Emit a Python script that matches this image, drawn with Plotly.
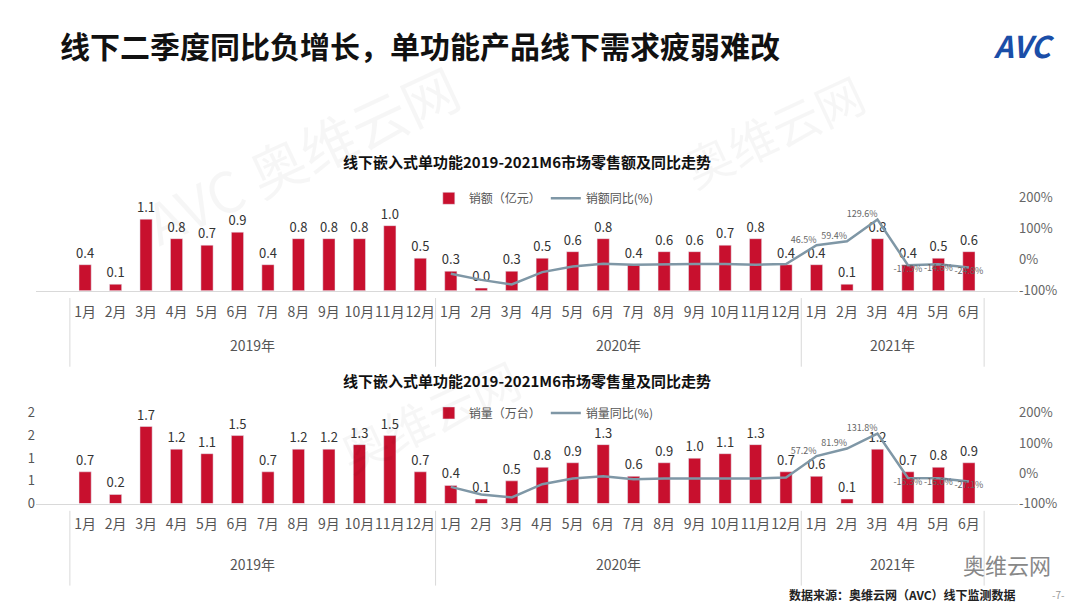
import plotly.graph_objects as go

years = ["2019年", "2020年", "2021年"]
year_len = [12, 12, 6]
months = [f"{m}月" for m in range(1, 13)] * 2 + [f"{m}月" for m in range(1, 7)]
cats = [f"{y}-{m}" for y, n in zip(years, year_len) for m in range(1, n + 1)]

sales_amt = [0.4, 0.1, 1.1, 0.8, 0.7, 0.9, 0.4, 0.8, 0.8, 0.8, 1.0, 0.5,
             0.3, 0.04, 0.3, 0.5, 0.6, 0.8, 0.4, 0.6, 0.6, 0.7, 0.8, 0.4,
             0.4, 0.1, 0.8, 0.4, 0.5, 0.6]
amt_yoy = [None] * 12 + [-45, -65, -80, -40, -22, -13, -16, -14, -14, -14, -16, -14,
                         46.5, 59.4, 129.6, -17.5, -14.6, -24.8]

sales_vol = [0.7, 0.2, 1.7, 1.2, 1.1, 1.5, 0.7, 1.2, 1.2, 1.3, 1.5, 0.7,
             0.4, 0.1, 0.5, 0.8, 0.9, 1.3, 0.6, 0.9, 1.0, 1.1, 1.3, 0.7,
             0.6, 0.1, 1.2, 0.7, 0.8, 0.9]
vol_yoy = [None] * 12 + [-45, -70, -80, -36, -17, -10, -20, -17, -17, -17, -17, -14,
                         57.2, 81.9, 131.8, -15.3, -16.0, -27.1]

RED = "#c8102e"
LINE = "#7f97a6"
GRID = "#d9d9d9"
FONT = "Noto Sans CJK SC"


def yoy_text(vals):
    return [f"{v:.1f}%" if i >= 24 else "" for i, v in enumerate(vals)]


def yoy_pos(vals):
    return ["bottom center" if (v is not None and v < 0) else "top left" for v in vals]


fig = go.Figure()

# top chart
fig.add_trace(go.Bar(x=cats, y=sales_amt, name="销额（亿元）", marker_color=RED, width=0.4,
                     text=[f"{v:.1f}" for v in sales_amt], textposition="outside",
                     constraintext="none", textfont=dict(size=13, color="#333"),
                     cliponaxis=False, xaxis="x", yaxis="y", legend="legend"))
fig.add_trace(go.Scatter(x=cats, y=amt_yoy, name="销额同比(%)", mode="lines+text",
                         line=dict(color=LINE, width=2.5), text=yoy_text(amt_yoy),
                         textposition=yoy_pos(amt_yoy), textfont=dict(size=9, color="#666"),
                         cliponaxis=False, xaxis="x", yaxis="y2", legend="legend"))

# bottom chart
fig.add_trace(go.Bar(x=cats, y=sales_vol, name="销量（万台）", marker_color=RED, width=0.4,
                     text=[f"{v:.1f}" for v in sales_vol], textposition="outside",
                     constraintext="none", textfont=dict(size=13, color="#333"),
                     cliponaxis=False, xaxis="x2", yaxis="y3", legend="legend2"))
fig.add_trace(go.Scatter(x=cats, y=vol_yoy, name="销量同比(%)", mode="lines+text",
                         line=dict(color=LINE, width=2.5), text=yoy_text(vol_yoy),
                         textposition=yoy_pos(vol_yoy), textfont=dict(size=9, color="#666"),
                         cliponaxis=False, xaxis="x2", yaxis="y4", legend="legend2"))

xcommon = dict(type="category", showgrid=False, showline=True, linecolor=GRID,
               tickvals=cats, ticktext=months, tickangle=0, automargin=False,
               ticklabelstandoff=8, tickfont=dict(size=14, color="#555"), domain=[0, 1])
pct = dict(range=[-100, 200], tickvals=[-100, 0, 100, 200], automargin=False,
           ticktext=["-100%", "0%", "100%", "200%"], side="right", showgrid=False,
           zeroline=False, tickfont=dict(size=13, color="#666"))


def ann(text, x, y, size, color="#111", xanchor="center", **kw):
    return dict(text=text, x=x, y=y, xref="paper", yref="paper", xanchor=xanchor,
                yanchor="middle", showarrow=False, font=dict(size=size, color=color), **kw)


# year dividers and year labels under each chart
shapes, year_anns = [], []
for xref, y0, y1, ylab in [("x", 0.523, 0.41, 0.445), ("x2", 0.173, 0.05, 0.085)]:
    start = 0
    edges = [-0.5]
    for y, n in zip(years, year_len):
        year_anns.append(dict(text=y, x=start + (n - 1) / 2, y=ylab, xref=xref, yref="paper",
                              showarrow=False, yanchor="middle",
                              font=dict(size=14, color="#555")))
        start += n
        edges.append(start - 0.5)
    for e in edges:
        shapes.append(dict(type="line", xref=xref, yref="paper", x0=e, x1=e, y0=y0, y1=y1,
                           line=dict(color=GRID, width=1)))

fig.update_layout(
    width=1080, height=608, paper_bgcolor="white", plot_bgcolor="white",
    font=dict(family=FONT), margin=dict(l=28, r=70, t=0, b=0), bargap=0.5,
    xaxis=dict(**xcommon, anchor="y"),
    yaxis=dict(domain=[0.535, 0.688], range=[0, 1.43], visible=False),
    yaxis2=dict(**pct, overlaying="y", anchor="x"),
    xaxis2=dict(**xcommon, anchor="y3"),
    yaxis3=dict(domain=[0.185, 0.334], range=[0, 2], tickvals=[0, 0.5, 1, 1.5, 2],
                ticktext=["0", "1", "1", "2", "2"], showgrid=False, zeroline=False,
                automargin=False, tickfont=dict(size=13, color="#555")),
    yaxis4=dict(**pct, overlaying="y3", anchor="x2"),
    legend=dict(orientation="h", x=0.4, y=0.687, xanchor="left", yanchor="middle",
                font=dict(size=12, color="#555"), bgcolor="rgba(0,0,0,0)"),
    legend2=dict(orientation="h", x=0.4, y=0.334, xanchor="left", yanchor="middle",
                 font=dict(size=12, color="#555"), bgcolor="rgba(0,0,0,0)"),
    shapes=shapes,
    annotations=year_anns + [
        ann("<b>线下二季度同比负增长，单功能产品线下需求疲弱难改</b>", 0.022, 0.939, 30,
            xanchor="left"),
        ann("<b><i>AVC</i></b>", 1.04, 0.939, 30, "#1a4ea8", xanchor="right"),
        ann("<b>线下嵌入式单功能2019-2021M6市场零售额及同比走势</b>", 0.5, 0.747, 15),
        ann("<b>线下嵌入式单功能2019-2021M6市场零售量及同比走势</b>", 0.5, 0.387, 15),
        ann("<b>数据来源：奥维云网（AVC）线下监测数据</b>", 1.0, 0.035, 12, "#222",
            xanchor="right"),
        ann("-7-", 1.05, 0.035, 10, "#999", xanchor="right"),
        ann("奥维云网", 1.036, 0.085, 22, "#888", xanchor="right"),
        ann("AVC 奥维云网", 0.27, 0.76, 56, "rgba(0,0,0,0.035)", textangle=-25),
        ann("奥维云网", 0.75, 0.8, 48, "rgba(0,0,0,0.035)", textangle=-25),
        ann("奥维云网", 0.4, 0.33, 48, "rgba(0,0,0,0.035)", textangle=-25),
    ],
)

fig.write_html("out.html")
